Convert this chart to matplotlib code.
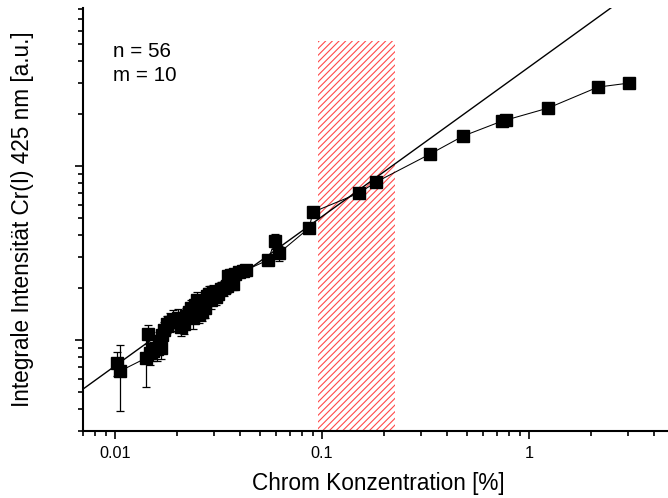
import numpy as np
import matplotlib
matplotlib.use("Agg")
import matplotlib.pyplot as plt
from matplotlib.patches import Rectangle
from matplotlib.ticker import LogLocator, NullFormatter, FixedLocator, FixedFormatter

plt.rcParams["font.family"] = ["Liberation Sans", "DejaVu Sans"]
plt.rcParams["hatch.linewidth"] = 0.8

# ── data ──────────────────────────────────────────────────────────────────────
conc = [0.01023, 0.01057, 0.01412, 0.01444, 0.01476, 0.01526, 0.01596, 0.01632,
        0.01669, 0.01688, 0.01725, 0.01784, 0.01844, 0.01907, 0.01972, 0.02016,
        0.02084, 0.02154, 0.02203, 0.02278, 0.02329, 0.02381, 0.02434, 0.02489,
        0.02545, 0.02631, 0.02721, 0.02782, 0.02845, 0.02909, 0.02974, 0.03075,
        0.03144, 0.03251, 0.03362, 0.0348, 0.0352, 0.03634, 0.03716, 0.0380,
        0.03972, 0.04154, 0.04295, 0.0548, 0.0593, 0.0620, 0.0865, 0.0905,
        0.1509, 0.1824, 0.3325, 0.480, 0.741, 0.774, 1.236, 2.154, 3.042]
intens = [73.8, 66.3, 78.8, 108.3, 84.2, 86.5, 88.8, 98.7,
          89.9, 106.8, 114.1, 123.6, 126.9, 130.3, 126.9, 133.8,
          118.8, 123.6, 137.4, 144.8, 152.7, 133.8, 158.9, 169.8,
          141.1, 144.8, 152.7, 179.1, 183.9, 169.8, 188.7, 176.7,
          183.9, 196.4, 199.0, 204.3, 233.2, 236.4, 209.8, 239.5,
          246.0, 249.3, 252.6, 288.3, 370.7, 316.2, 440.4, 543.9,
          699.6, 809.1, 1172, 1487, 1814, 1838, 2154, 2844, 2999]
intens_err = [12, 27, 25, 13, 12, 11, 13, 12,
              12, 11, 13, 14, 16, 18, 14, 17,
              13, 15, 16, 18, 17, 18, 19, 18,
              16, 17, 19, 19, 20, 20, 19, 18,
              19, 18, 19, 18, 19, 18, 17, 18,
              17, 16, 14, 17, 36, 30, 25, 15,
              10, 10, 15, 20, 25, 25, 30, 40, 40]

# linear fit in log-log space: log10(I) = a + b*log10(c)
fit_a, fit_b = 3.569, 0.859
fit_x = [0.007, 5.0]

# hatched region (concentration range, intensity top)
band_x = (0.096, 0.224)
band_top = 5200

# ── plot ──────────────────────────────────────────────────────────────────────
fig = plt.figure(figsize=(6.68, 4.98), dpi=100)
ax = fig.add_axes([83 / 668, 67 / 498, 590.7 / 668, 423 / 498])
ax.set_xscale("log")
ax.set_yscale("log")
ax.set_xlim(0.007, 5.0)
ax.set_ylim(30, 8100)

ax.add_patch(Rectangle((band_x[0], 30), band_x[1] - band_x[0], band_top - 30,
                       facecolor="none", edgecolor="#ff4a4a", hatch="/////",
                       linewidth=0, zorder=0))

fx = np.array(fit_x)
ax.plot(fx, 10 ** (fit_a + fit_b * np.log10(fx)), color="black", lw=1.0, zorder=2)

ax.errorbar(conc, intens, yerr=intens_err, fmt="s-", color="black", ms=8,
            lw=0.75, elinewidth=0.9, capsize=3.2, capthick=0.9, zorder=3)

ax.text(0.051, 0.896, "n = 56", transform=ax.transAxes, fontsize=14.9, va="center")
ax.text(0.051, 0.8416, "m = 10", transform=ax.transAxes, fontsize=14.9, va="center")

ax.set_xlabel("Chrom Konzentration [%]", fontsize=16.3, labelpad=8)
ax.set_ylabel("Integrale Intensität Cr(I) 425 nm [a.u.]", fontsize=16.3, labelpad=24)

ax.xaxis.set_major_locator(FixedLocator([0.01, 0.1, 1]))
ax.xaxis.set_major_formatter(FixedFormatter(["0.01", "0.1", "1"]))
ax.xaxis.set_minor_locator(LogLocator(base=10, subs=np.arange(2, 10), numticks=20))
ax.xaxis.set_minor_formatter(NullFormatter())
ax.yaxis.set_major_locator(LogLocator(base=10, numticks=10))
ax.yaxis.set_minor_locator(LogLocator(base=10, subs=np.arange(2, 10), numticks=20))
ax.yaxis.set_major_formatter(NullFormatter())
ax.yaxis.set_minor_formatter(NullFormatter())

ax.tick_params(which="major", direction="out", length=6, width=1.2, labelsize=11.7, pad=5)
ax.tick_params(which="minor", direction="out", length=3.6, width=1.2)
ax.spines[["top", "right"]].set_visible(False)
ax.spines[["left", "bottom"]].set_linewidth(1.5)

fig.savefig("out.png", dpi=100)
